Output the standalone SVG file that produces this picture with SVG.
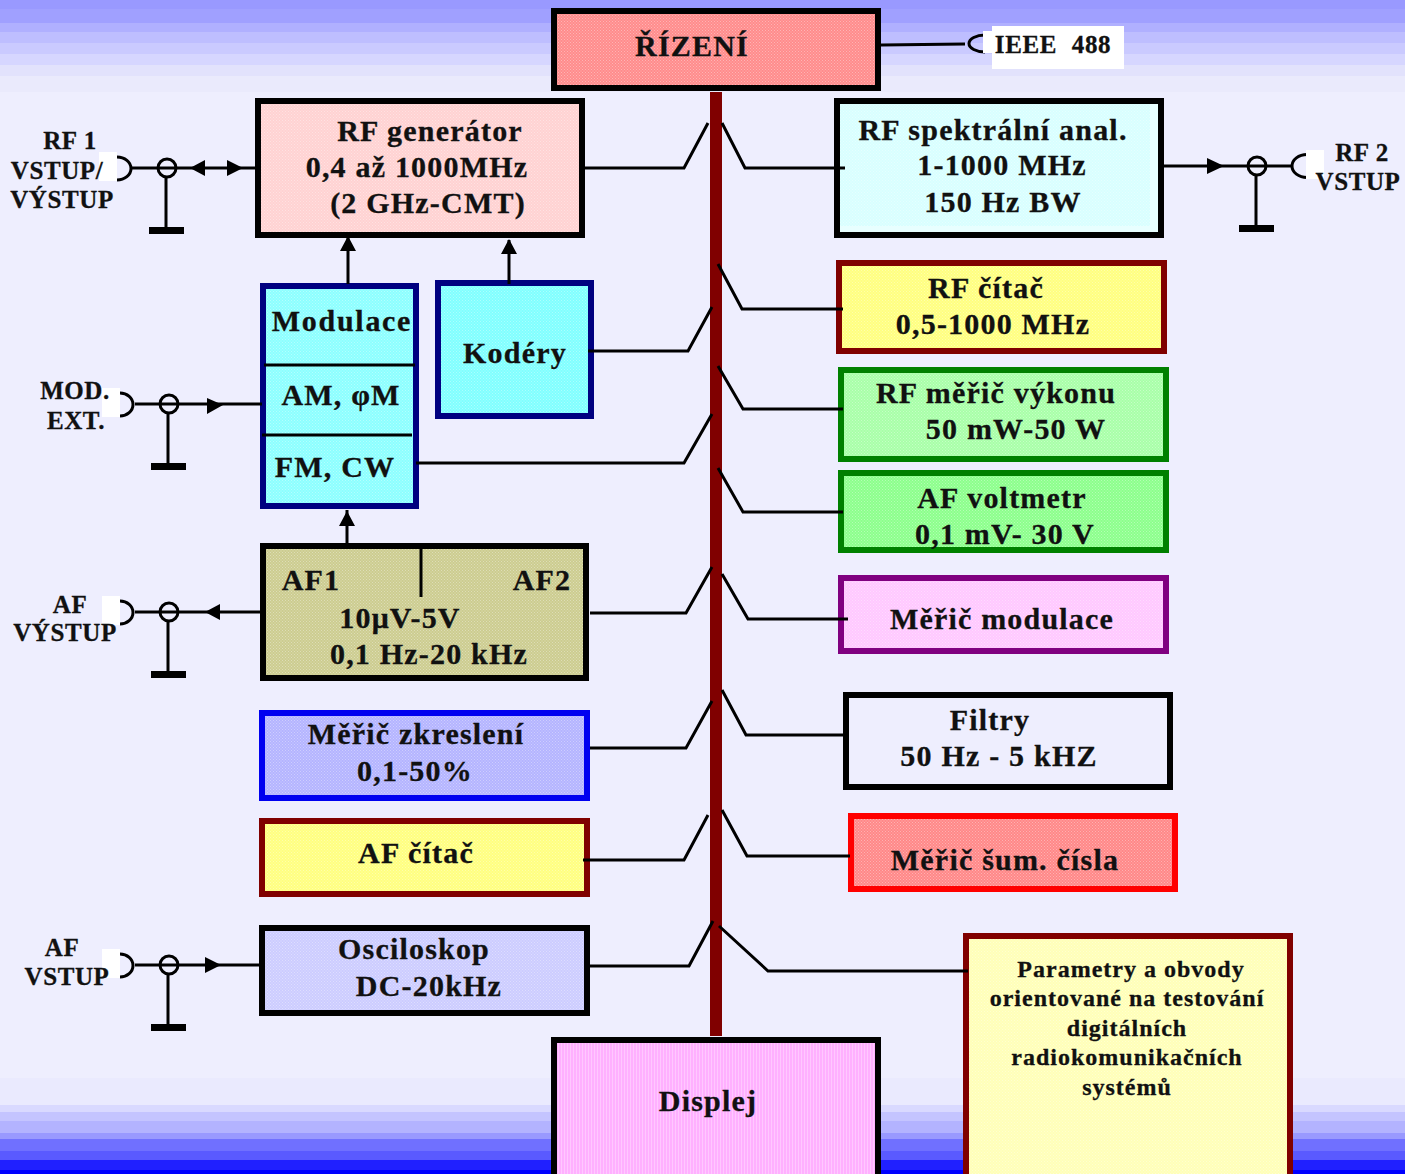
<svg xmlns="http://www.w3.org/2000/svg" width="1405" height="1174" viewBox="0 0 1405 1174">
<style>
text{font-family:"Liberation Serif","Times New Roman",serif;font-weight:bold;fill:#111;stroke:#111;stroke-width:.3px;font-size:30px;letter-spacing:1.2px;text-anchor:middle}
.s{font-size:25px;letter-spacing:.6px}
.p{font-size:24px;letter-spacing:1px}
.box{stroke-width:6}
.b{stroke:#000}
.l{fill:none;stroke:#000;stroke-width:3}
.h{fill:#000;stroke:none}
.w{fill:#fff}
</style>
<defs>
<pattern id="d" width="3" height="3" patternUnits="userSpaceOnUse"><rect x="0" y="0" width="1" height="1" fill="#fff" fill-opacity=".35"/><rect x="1.500" y="1.500" width="1" height="1" fill="#fff" fill-opacity=".35"/></pattern>
<pattern id="v" width="3" height="3" patternUnits="userSpaceOnUse"><rect width="1" height="3" fill="#fff" fill-opacity=".3"/></pattern>
<g id="gnd"><circle cx="0" cy="0" r="9" fill="none" stroke="#000" stroke-width="3"/><path d="M-1,8V62" class="l"/><rect x="-18" y="59" width="35" height="7" fill="#000"/></g>
</defs>
<rect width="1405" height="1174" fill="#EEEEFE"/>
<g id="bg">
<rect width="1405" height="9" fill="#9999FF"/><rect y="9" width="1405" height="14" fill="#A0A0FF"/><rect y="23" width="1405" height="9" fill="#B0B0FF"/><rect y="32" width="1405" height="11" fill="#BEBEFF"/><rect y="43" width="1405" height="11" fill="#CACAFF"/><rect y="54" width="1405" height="11" fill="#D6D6FF"/><rect y="65" width="1405" height="11" fill="#E2E2FC"/><rect y="76" width="1405" height="16" fill="#EAEAFC"/>
<rect y="1078" width="1405" height="27" fill="#EAEAFE"/><rect y="1105" width="1405" height="7" fill="#D9D9FF"/><rect y="1112" width="1405" height="9" fill="#C4C4FF"/><rect y="1121" width="1405" height="12" fill="#B3B3FF"/><rect y="1133" width="1405" height="6" fill="#9999FF"/><rect y="1139" width="1405" height="12" fill="#7070FF"/><rect y="1151" width="1405" height="9" fill="#5A5AFF"/><rect y="1160" width="1405" height="10" fill="#2020FF"/><rect y="1170" width="1405" height="4" fill="#0000FF"/>
</g>
<g id="n-rizeni"><rect class="box b" x="554" y="11" width="324" height="77" fill="#FF8C8C"/><rect x="557" y="14" width="318" height="71" fill="url(#d)"/><text x="692" y="56">ŘÍZENÍ</text></g>
<g id="n-ieee"><rect class="w" x="992" y="26" width="132" height="43"/><text class="s" x="1053" y="53" style="word-spacing:8px">IEEE 488</text></g>
<g id="n-rfgen"><rect class="box b" x="258" y="101" width="324" height="134" fill="#FFD2D2"/><rect x="261" y="104" width="318" height="128" fill="url(#d)"/><text x="430" y="141">RF generátor</text><text x="417" y="177">0,4 až 1000MHz</text><text x="428" y="213">(2 GHz-CMT)</text></g>
<g id="n-rfspec"><rect class="box b" x="837" y="101" width="324" height="134" fill="#E8FFFF"/><rect x="840" y="104" width="310" height="122" fill="#D8FFFF"/><rect x="840" y="104" width="310" height="122" fill="url(#d)"/><text x="993" y="140">RF spektrální anal.</text><text x="1002" y="175">1-1000 MHz</text><text x="1003" y="212">150 Hz BW</text></g>
<g id="n-modulace"><rect class="box" x="263" y="286" width="153" height="220" fill="#8CFFFF" stroke="#000080"/><rect x="266" y="289" width="147" height="214" fill="url(#d)"/><text x="342" y="331" style="letter-spacing:1.7px">Modulace</text><text x="341" y="405">AM, φM</text><text x="335" y="477">FM, CW</text></g>
<g id="n-kodery"><rect class="box" x="438" y="283" width="153" height="133" fill="#80FFFF" stroke="#000080"/><rect x="441" y="286" width="147" height="127" fill="url(#d)"/><text x="515" y="363">Kodéry</text></g>
<g id="n-rfcitac"><rect class="box" x="839" y="263" width="325" height="88" fill="#FFFF80" stroke="#800000"/><rect x="842" y="266" width="319" height="82" fill="url(#d)"/><text x="986" y="298">RF čítač</text><text x="993" y="334">0,5-1000 MHz</text></g>
<g id="n-rfvykon"><rect class="box" x="841" y="370" width="325" height="89" fill="#A8FFA8" stroke="#008000"/><rect x="844" y="373" width="319" height="83" fill="url(#d)"/><text x="996" y="403">RF měřič výkonu</text><text x="1016" y="439">50 mW-50 W</text></g>
<g id="n-afvolt"><rect class="box" x="841" y="473" width="325" height="77" fill="#8CFF8C" stroke="#008000"/><rect x="844" y="476" width="319" height="71" fill="url(#d)"/><text x="1002" y="508">AF voltmetr</text><text x="1005" y="544">0,1 mV- 30 V</text></g>
<g id="n-af"><rect class="box b" x="263" y="546" width="323" height="132" fill="#CCCC90"/><rect x="266" y="549" width="317" height="126" fill="url(#d)"/><text x="311" y="590">AF1</text><text x="542" y="590">AF2</text><text x="400" y="628">10μV-5V</text><text x="429" y="664">0,1 Hz-20 kHz</text></g>
<g id="n-modmer"><rect class="box" x="841" y="578" width="325" height="73" fill="#FFC8FF" stroke="#800080"/><rect x="844" y="581" width="319" height="67" fill="url(#d)"/><text x="1002" y="629">Měřič modulace</text></g>
<g id="n-zkresleni"><rect class="box" x="262" y="713" width="325" height="85" fill="#B4B4FF" stroke="#0000F0"/><rect x="265" y="716" width="319" height="79" fill="url(#d)"/><text x="416" y="744">Měřič zkreslení</text><text x="415" y="781">0,1-50%</text></g>
<g id="n-filtry"><rect class="box b" x="846" y="695" width="324" height="92" fill="#EEEEFE"/><text x="990" y="730">Filtry</text><text x="999" y="766">50 Hz - 5 kHZ</text></g>
<g id="n-afcitac"><rect class="box" x="262" y="821" width="325" height="73" fill="#FFFF80" stroke="#800000"/><rect x="265" y="824" width="319" height="67" fill="url(#d)"/><text x="416" y="863">AF čítač</text></g>
<g id="n-sum"><rect class="box" x="851" y="816" width="324" height="73" fill="#FF8888" stroke="#FF0000"/><rect x="854" y="819" width="318" height="67" fill="url(#d)"/><text x="1005" y="870">Měřič šum. čísla</text></g>
<g id="n-osc"><rect class="box b" x="262" y="928" width="325" height="85" fill="#CCCCFF"/><rect x="265" y="931" width="319" height="79" fill="url(#d)"/><text x="414" y="959">Osciloskop</text><text x="429" y="996">DC-20kHz</text></g>
<g id="n-displej"><rect class="box b" x="554" y="1040" width="324" height="140" fill="#FFB0FF"/><rect x="557" y="1043" width="318" height="134" fill="url(#v)"/><text x="708" y="1111">Displej</text></g>
<g id="n-param"><rect class="box" x="966" y="936" width="324" height="245" fill="#FFFFB8" stroke="#800000"/><rect x="969" y="939" width="318" height="235" fill="url(#d)"/><text class="p" x="1131" y="977">Parametry a obvody</text><text class="p" x="1127" y="1006">orientované na testování</text><text class="p" x="1127" y="1036">digitálních</text><text class="p" x="1127" y="1065">radiokomunikačních</text><text class="p" x="1127" y="1095">systémů</text></g>
<g id="connectors">
<rect x="710" y="92" width="12" height="944" fill="#800000"/>
<path class="l" d="M881,45L965,44M585,168H684L708,123M722,123L745,168H845M588,351H688L712,307M718,264L742,309H843M416,463H684L712,414M718,366L743,409H843M718,468L743,512H843M590,613H686L712,567M722,574L748,619H848M590,748H686L712,701M722,690L746,735H846M583,860H684L708,815M722,810L747,856H850M590,966H689L713,921M719,926L768,971H968M348,284V238M509,284V240M347,544V510M1164,166H1291M132,168H255M135,404H262M135,612H260M135,965H260M264,365H415M262,435H412M421,548V597"/>
<path class="h" d="M340,251L348,236L356,251ZM501,254L509,239L517,254ZM339,526L347,511L355,526ZM190,168L205,160V176ZM243,168L227,160V176ZM223,405L207,398V414ZM205,612L220,604V620ZM221,965L205,957V973ZM1224,166L1207,158V174Z"/>
<g fill="none" stroke="#000" stroke-width="3"><path d="M117,157a14,11.500 0 0 1 0,23"/><path d="M120,393a13,11.500 0 0 1 0,23"/><path d="M120,601a13,11.500 0 0 1 0,23"/><path d="M120,954a13,11.500 0 0 1 0,23"/><path d="M1307,154.500a15,11.500 0 1 0 0,23"/><path d="M985,35a16,8.500 0 1 0 0,17"/></g>
<use href="#gnd" x="167" y="168"/><use href="#gnd" x="169" y="404"/><use href="#gnd" x="169" y="612"/><use href="#gnd" x="169" y="965"/><use href="#gnd" x="1257" y="166"/>
</g>
<g id="port-masks"><rect class="w" x="99" y="152" width="18" height="29"/><rect class="w" x="102" y="388" width="18" height="29"/><rect class="w" x="102" y="596" width="18" height="29"/><rect class="w" x="102" y="949" width="18" height="29"/><rect class="w" x="1306" y="150" width="18" height="29"/><rect class="w" x="983" y="31" width="9" height="22"/></g>
<g id="labels"><text class="s" x="70" y="149">RF 1</text><text class="s" x="57" y="179">VSTUP/</text><text class="s" x="62" y="208">VÝSTUP</text><text class="s" x="75" y="399">MOD.</text><text class="s" x="76" y="429">EXT.</text><text class="s" x="70" y="613">AF</text><text class="s" x="65" y="641">VÝSTUP</text><text class="s" x="62" y="956">AF</text><text class="s" x="67" y="985">VSTUP</text><text class="s" x="1362" y="161">RF 2</text><text class="s" x="1358" y="190">VSTUP</text></g>
</svg>
